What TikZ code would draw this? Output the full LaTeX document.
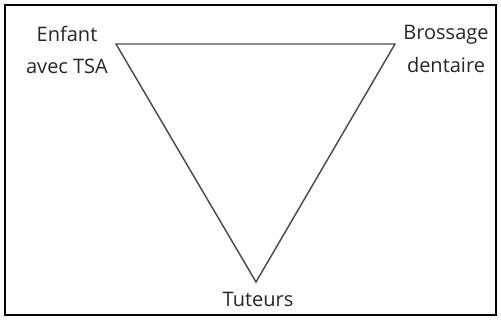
\documentclass[tikz,border=0pt]{standalone}
\usepackage{fontspec}
\setmainfont{Open Sans}
\usetikzlibrary{positioning}
\begin{document}
\begin{tikzpicture}[x=0.75pt,y=-0.75pt,font=\fontsize{15}{24.5}\selectfont,
  lbl/.style={align=center,inner sep=0pt,text=black!85},
  side/.style={draw=black!70,line width=1.1pt,line join=miter}]
  \useasboundingbox (0,0) rectangle (501,320);
  \draw[black,line width=0.8pt] (5,5) rectangle (496,315);
  % sommets
  \coordinate (enf) at (116,44);\coordinate (bro) at (395,44);\coordinate (tut) at (256,282);
  \draw[side] (enf)--(bro)--(tut)--cycle;
  \node[lbl] (enfant) at (67,50) {Enfant\\avec TSA};
  \node[lbl] (brossage) at (446,49) {Brossage\\dentaire};
  \node[lbl] (tuteurs) at (258,299) {Tuteurs};
\end{tikzpicture}
\end{document}
